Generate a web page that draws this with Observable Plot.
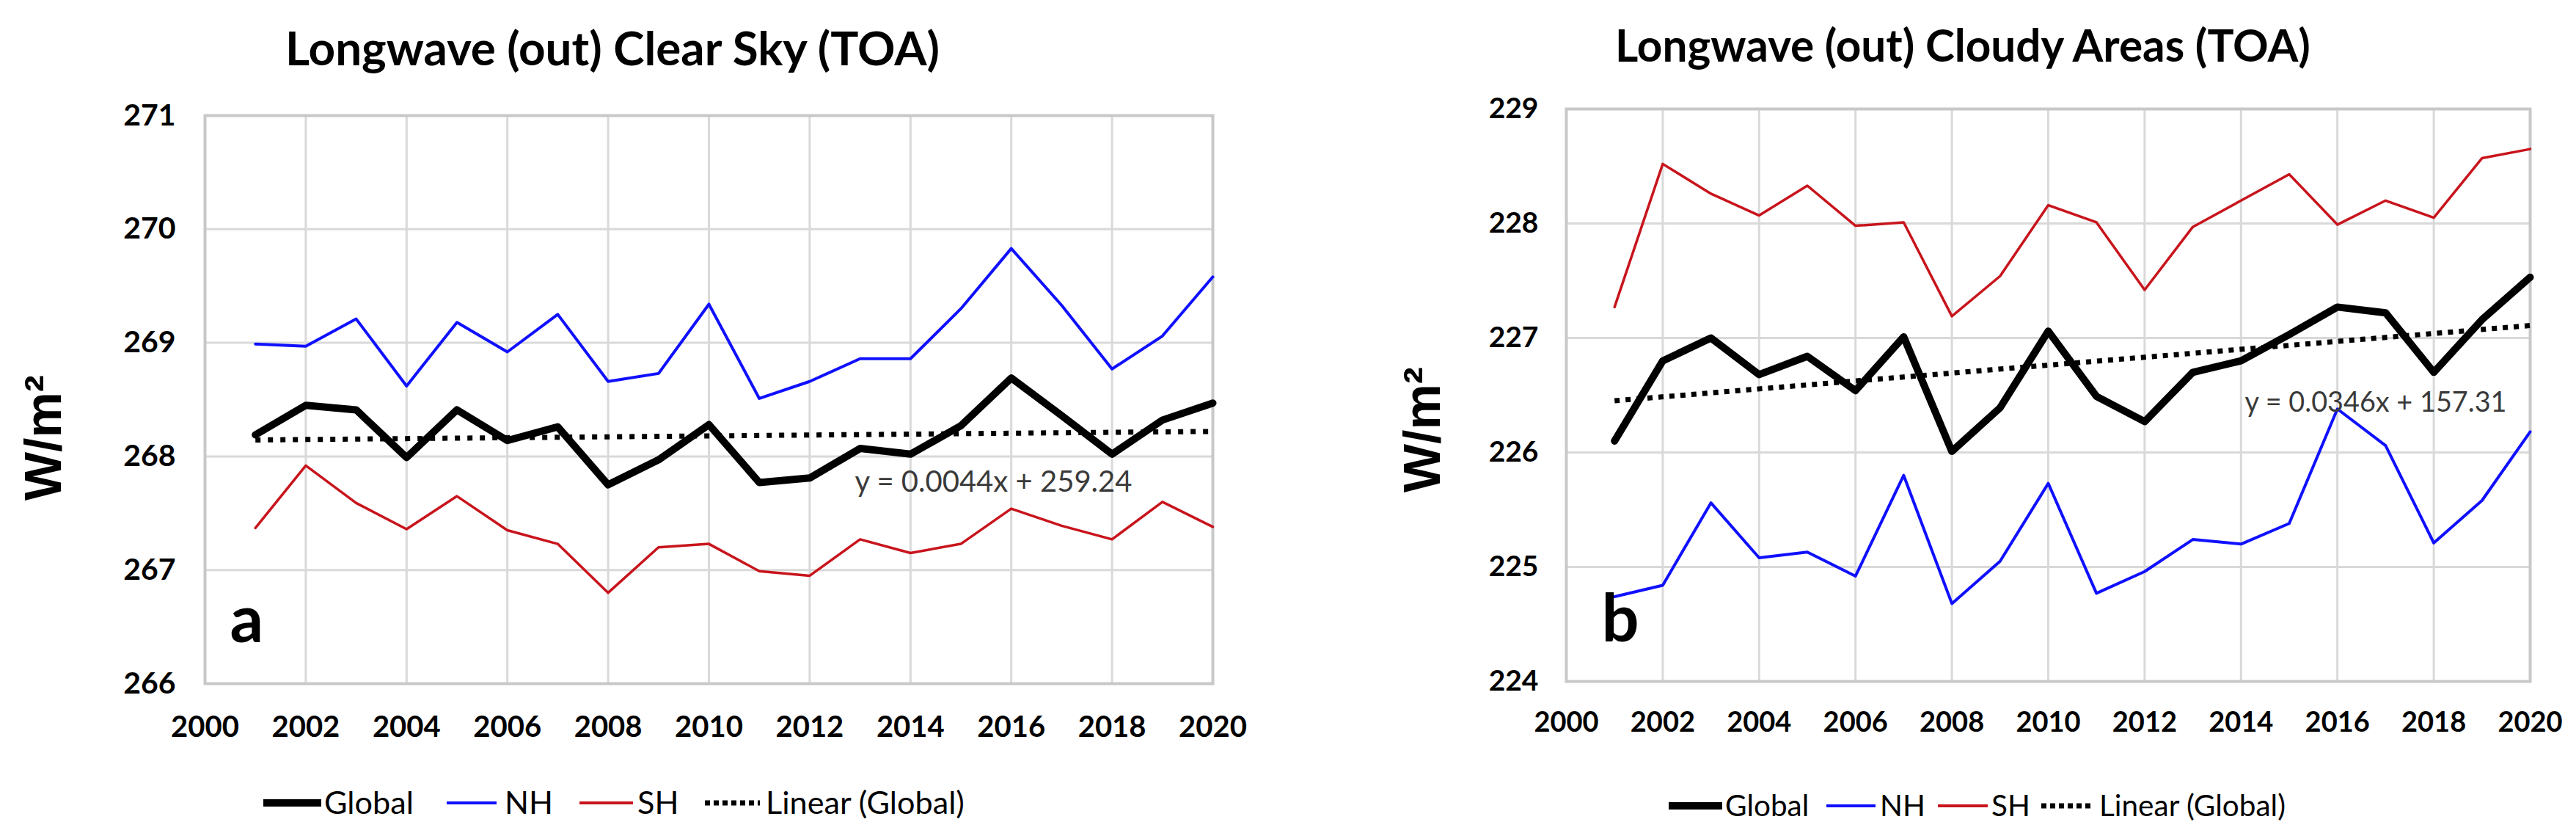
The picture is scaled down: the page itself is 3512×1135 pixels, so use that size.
<!DOCTYPE html>
<html>
<head>
<meta charset="utf-8">
<script src="https://cdn.jsdelivr.net/npm/d3@7"></script>
<script src="https://cdn.jsdelivr.net/npm/@observablehq/plot@0.6"></script>
<style>
  html, body { margin: 0; padding: 0; background: #fff; }
  body { width: 3512px; height: 1135px; position: relative; overflow: hidden; font-family: Lato, "Open Sans", sans-serif; }
  .chart { position: absolute; top: 120px; }
  .title { position: absolute; font-weight: bold; line-height: 1; white-space: nowrap; color: #000; }
  .ltext { position: absolute; line-height: 1; white-space: nowrap; color: #000; }
  .lsw { position: absolute; display: block; }
</style>
</head>
<body>
<div class="chart" id="chartA" style="left:0px"></div>
<div class="chart" id="chartB" style="left:1756px"></div>
<script>
// ---------------- data ----------------
const years = [2001, 2002, 2003, 2004, 2005, 2006, 2007, 2008, 2009, 2010,
               2011, 2012, 2013, 2014, 2015, 2016, 2017, 2018, 2019, 2020];

const clearGlobal = [268.19, 268.45, 268.41, 267.99, 268.41, 268.14, 268.26, 267.75, 267.97, 268.28,
                     267.77, 267.81, 268.07, 268.02, 268.27, 268.69, 268.36, 268.02, 268.32, 268.47];
const clearNH     = [268.99, 268.97, 269.21, 268.62, 269.18, 268.92, 269.25, 268.66, 268.73, 269.34,
                     268.51, 268.66, 268.86, 268.86, 269.30, 269.83, 269.33, 268.77, 269.06, 269.58];
const clearSH     = [267.37, 267.92, 267.59, 267.36, 267.65, 267.35, 267.23, 266.80, 267.20, 267.23,
                     266.99, 266.95, 267.27, 267.15, 267.23, 267.54, 267.39, 267.27, 267.60, 267.38];

const cloudyGlobal = [226.10, 226.80, 227.00, 226.68, 226.84, 226.54, 227.01, 226.01, 226.39, 227.06,
                      226.49, 226.27, 226.70, 226.80, 227.03, 227.27, 227.22, 226.70, 227.16, 227.53];
const cloudyNH     = [224.74, 224.84, 225.56, 225.08, 225.13, 224.92, 225.80, 224.68, 225.05, 225.73,
                      224.77, 224.96, 225.24, 225.20, 225.38, 226.38, 226.06, 225.21, 225.58, 226.18];
const cloudySH     = [227.27, 228.52, 228.26, 228.07, 228.33, 227.98, 228.01, 227.19, 227.54, 228.16,
                      228.01, 227.42, 227.97, 228.20, 228.43, 227.99, 228.20, 228.05, 228.57, 228.65];

const xTicks = [2000, 2002, 2004, 2006, 2008, 2010, 2012, 2014, 2016, 2018, 2020];
const yTicksA = [266, 267, 268, 269, 270, 271];
const yTicksB = [224, 225, 226, 227, 228, 229];

const titleA = "Longwave (out) Clear Sky (TOA)";
const titleB = "Longwave (out) Cloudy Areas (TOA)";
const equationA = "y = 0.0044x + 259.24";
const equationB = "y = 0.0346x + 157.31";
const panelLabelA = "a";
const panelLabelB = "b";
const yLabel = "W/m²";
const legendLabels = ["Global", "NH", "SH", "Linear (Global)"];

// ---------------- styling / layout ----------------
const FONT = 'Lato, "Open Sans", sans-serif';
const ARIAL = '"Liberation Sans", Arial, sans-serif';
const BLUE = "#1010ff";
const RED = "#c8141c";
const rows = (vals) => years.map((year, i) => ({year, value: vals[i]}));

function makeChart(cfg) {
  const g = rows(cfg.global), n = rows(cfg.nh), s = rows(cfg.sh);
  const svg = Plot.plot({
    width: 1756,
    height: 930,
    marginLeft: cfg.ml, marginRight: cfg.mr, marginTop: cfg.mt, marginBottom: cfg.mb,
    x: {domain: [2000, 2020]},
    y: {domain: cfg.yDomain},
    style: {fontFamily: FONT, background: "transparent", overflow: "visible"},
    marks: [
      Plot.ruleY(cfg.yTicks, {stroke: "#d9d9d9", strokeWidth: 3}),
      Plot.ruleX(xTicks, {stroke: "#d9d9d9", strokeWidth: 3}),
      Plot.frame({stroke: "#c8c8c8", strokeWidth: 4}),
      Plot.axisX({ticks: xTicks, tickSize: 0, tickPadding: cfg.xPad, tickFormat: d => String(d),
                  fontSize: cfg.xFont, fontWeight: "bold", fill: "#000", label: null}),
      Plot.axisY({ticks: cfg.yTicks, tickSize: 0, tickPadding: cfg.yPad, tickFormat: d => String(d),
                  fontSize: cfg.yFont, fontWeight: "bold", fill: "#000", label: null}),
      Plot.line(g, {x: "year", y: "value", stroke: "#000", strokeWidth: 10, strokeLinejoin: "round"}),
      Plot.line(n, {x: "year", y: "value", stroke: BLUE, strokeWidth: 4, strokeLinejoin: "round"}),
      Plot.line(s, {x: "year", y: "value", stroke: RED, strokeWidth: 3.5, strokeLinejoin: "round"}),
      Plot.linearRegressionY(g, {x: "year", y: "value", ci: 0, stroke: "#000", strokeWidth: 7,
                                 strokeDasharray: cfg.dash, strokeLinecap: "butt"}),
      Plot.text([cfg.equation], {frameAnchor: "top-left", dx: cfg.eqDx, dy: cfg.eqDy, textAnchor: "start",
                                 fontSize: 40, fill: "#3a3a3a", fontWeight: "normal"}),
      Plot.text([cfg.panelLabel], {frameAnchor: "bottom-left", dx: cfg.lblDx, dy: cfg.lblDy, textAnchor: "start",
                                   fontSize: 90, fontWeight: "bold", fill: "#000"}),
      Plot.text([yLabel], {frameAnchor: "left", dx: cfg.ylDx, dy: cfg.ylDy, rotate: -90, textAnchor: "middle",
                           fontSize: 70, fontWeight: "bold", fontFamily: ARIAL, fill: "#000"})
    ]
  });
  return svg;
}

// fit an svg <text> (by content) to a target pixel width
function fitSvgText(svg, content, target) {
  svg.querySelectorAll("text").forEach(t => {
    if (t.textContent === content) {
      const fs = parseFloat(getComputedStyle(t).fontSize);
      const w = t.getComputedTextLength();
      if (w > 0) t.style.fontSize = (fs * target / w).toFixed(2) + "px";
    }
  });
}

// HTML title, fitted to a width, centred on cx, with baseline at by
function addTitle(text, cx, by, target) {
  const el = document.createElement("div");
  el.className = "title";
  el.textContent = text;
  el.style.fontSize = "60px";
  el.style.left = "0px"; el.style.top = "0px";
  document.body.appendChild(el);
  let w = el.getBoundingClientRect().width;
  const fs = 60 * target / w;
  el.style.fontSize = fs + "px";
  w = el.getBoundingClientRect().width;
  el.style.left = (cx - w / 2) + "px";
  el.style.top = (by - 0.887 * fs) + "px";
}

function swatch(kind, x, cy, w) {
  const ns = "http://www.w3.org/2000/svg";
  const svg = document.createElementNS(ns, "svg");
  svg.setAttribute("class", "lsw");
  svg.setAttribute("width", w); svg.setAttribute("height", 14);
  svg.style.left = x + "px"; svg.style.top = (cy - 7) + "px";
  const line = document.createElementNS(ns, "line");
  line.setAttribute("x1", 0); line.setAttribute("x2", w);
  line.setAttribute("y1", 7); line.setAttribute("y2", 7);
  const st = {global: ["#000", 10, null], nh: [BLUE, 4, null], sh: [RED, 4, null], lin: ["#000", 7, "7,5"]}[kind];
  line.setAttribute("stroke", st[0]); line.setAttribute("stroke-width", st[1]);
  if (st[2]) line.setAttribute("stroke-dasharray", st[2]);
  svg.appendChild(line);
  document.body.appendChild(svg);
}

function addLegend(layout) {
  const kinds = ["global", "nh", "sh", "lin"];
  // measure font size so that the last label matches its width
  const probe = document.createElement("div");
  probe.className = "ltext"; probe.style.fontSize = "40px"; probe.textContent = legendLabels[3];
  document.body.appendChild(probe);
  const fs = 40 * layout.lastWidth / probe.getBoundingClientRect().width;
  probe.remove();
  kinds.forEach((k, i) => {
    const [sx, sw, tx] = layout.items[i];
    swatch(k, sx, layout.cy, sw);
    const t = document.createElement("div");
    t.className = "ltext";
    t.textContent = legendLabels[i];
    t.style.fontSize = fs + "px";
    t.style.left = tx + "px";
    t.style.top = (layout.cy + 0.36 * fs - 0.887 * fs) + "px";
    document.body.appendChild(t);
  });
}

const svgA = makeChart({
  global: clearGlobal, nh: clearNH, sh: clearSH, yDomain: [266, 271], yTicks: yTicksA,
  ml: 279, mr: 103, mt: 37, mb: 119,
  xPad: 44, xFont: 40, yPad: 40, yFont: 41,
  dash: "7,10",
  equation: equationA, eqDx: 886, eqDy: 484,
  panelLabel: panelLabelA, lblDx: 34, lblDy: -57,
  ylDx: -219, ylDy: 52
});
document.getElementById("chartA").appendChild(svgA);
fitSvgText(svgA, equationA, 378);

const svgB = makeChart({
  global: cloudyGlobal, nh: cloudyNH, sh: cloudySH, yDomain: [224, 229], yTicks: yTicksB,
  ml: 379, mr: 63, mt: 28, mb: 122,
  xPad: 42, xFont: 38, yPad: 38, yFont: 39,
  dash: "7,8",
  equation: equationB, eqDx: 925, eqDy: 386,
  panelLabel: panelLabelB, lblDx: 48, lblDy: -55,
  ylDx: -195, ylDy: 47
});
document.getElementById("chartB").appendChild(svgB);
fitSvgText(svgB, equationB, 357);

addTitle(titleA, 835, 90, 892);
addTitle(titleB, 2676, 84, 948);

addLegend({cy: 1094, lastWidth: 271,
  items: [[359, 79, 442], [609, 68, 688], [790, 73, 869], [961, 75, 1044]]});
addLegend({cy: 1098, lastWidth: 254,
  items: [[2275, 73, 2352], [2490, 67, 2563], [2642, 68, 2715], [2783, 68, 2862]]});
</script>
</body>
</html>
